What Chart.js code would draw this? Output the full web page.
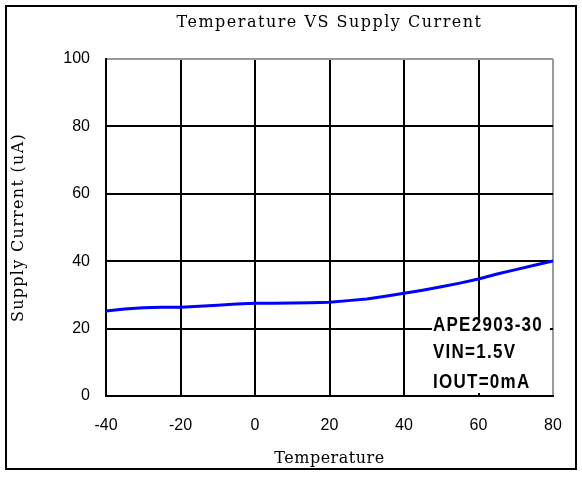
<!DOCTYPE html>
<html lang="en">
  <head>
    <meta charset="UTF-8" />
    <title>Temperature VS Supply Current</title>
    <script src="https://cdn.jsdelivr.net/npm/chart.js"></script>
    <style>
      html, body { margin: 0; padding: 0; background: #fff; }
      #box {
        position: absolute; left: 5px; top: 5px;
        width: 572px; height: 465px;
        border: 2px solid #000; box-sizing: border-box;
      }
      #chart { display: block; }
    </style>
  </head>
  <body>
    <div id="box"><canvas id="chart" width="568" height="461"></canvas></div>
    <script>
      // Temperature (C) and supply current (uA)
      const temperature = [-40, -35, -30, -25, -20, -15, -10, -5, 0, 5, 10, 15, 20, 25, 30, 35, 40, 45, 50, 55, 60, 65, 70, 75, 80];
      const supplyCurrent = [25.2, 25.8, 26.2, 26.3, 26.3, 26.6, 26.9, 27.3, 27.5, 27.5, 27.6, 27.7, 27.8, 28.3, 28.8, 29.6, 30.5, 31.4, 32.4, 33.5, 34.7, 36.2, 37.5, 38.8, 40.1];
      const chartTitle = "Temperature VS Supply Current";
      const xTitle = "Temperature";
      const yTitle = "Supply Current (uA)";
      const noteLines = ["APE2903-30", "VIN=1.5V", "IOUT=0mA"];

      const tickFont = { family: "'Liberation Sans', Arial, sans-serif", size: 16 };
      const serif = "16px 'DejaVu Serif', serif";

      // titles are drawn by hand so they centre on the plot and get the wide spacing
      const textPlugin = {
        id: "texts",
        afterDraw(chart) {
          const { ctx, chartArea } = chart;
          const midX = (chartArea.left + chartArea.right) / 2;
          const midY = (chartArea.top + chartArea.bottom) / 2;
          ctx.save();
          ctx.fillStyle = "#000";
          ctx.font = serif;
          ctx.textAlign = "center";
          ctx.textBaseline = "middle";
          ctx.letterSpacing = "1.5px";
          ctx.fillText(chartTitle, midX, 16);
          ctx.letterSpacing = "0.5px";
          ctx.fillText(xTitle, midX, chart.height - 9);
          ctx.letterSpacing = "1.3px";
          ctx.translate(12, midY);
          ctx.rotate(-Math.PI / 2);
          ctx.fillText(yTitle, 0, 0);
          ctx.restore();
        },
        // white note box in the lower right corner of the plot
        afterDatasetsDraw(chart) {
          const { ctx, chartArea, scales } = chart;
          const left = scales.x.getPixelForValue(47.5);
          const top = scales.y.getPixelForValue(23);
          ctx.save();
          ctx.fillStyle = "#fff";
          ctx.fillRect(left, top, chartArea.right - 3 - left, chartArea.bottom - 3 - top);
          ctx.fillStyle = "#000";
          ctx.font = "bold 20px 'Liberation Sans', Arial, sans-serif";
          ctx.textBaseline = "middle";
          const rows = [21, 13, 3.9];
          noteLines.forEach((t, i) => {
            ctx.save();
            ctx.translate(left + 1, scales.y.getPixelForValue(rows[i]));
            ctx.scale(0.85, 1);
            ctx.letterSpacing = "1.5px";
            ctx.fillText(t, 0, 0);
            ctx.restore();
          });
          ctx.restore();
        },
      };

      new Chart(document.getElementById("chart"), {
        type: "line",
        data: {
          datasets: [
            {
              data: temperature.map((t, i) => ({ x: t, y: supplyCurrent[i] })),
              borderColor: "#0000ff",
              borderWidth: 3,
              pointRadius: 0,
              tension: 0,
            },
          ],
        },
        options: {
          responsive: false,
          animation: false,
          layout: { padding: { left: 0, right: 22, top: 52, bottom: 0 } },
          plugins: {
            legend: { display: false },
            tooltip: { enabled: false },
            title: { display: false },
          },
          scales: {
            x: {
              type: "linear",
              min: -40,
              max: 80,
              ticks: { stepSize: 20, color: "#000", font: tickFont, padding: 20, maxRotation: 0 },
              grid: {
                color: (c) => (c.tick && c.tick.value === 80 ? "#999" : "#000"),
                lineWidth: 2,
                drawTicks: false,
              },
              border: { color: "#000", width: 2 },
              afterFit(axis) {
                axis.height = 72;
                axis.paddingLeft = 0;
                axis.paddingRight = 0;
              },
            },
            y: {
              min: 0,
              max: 100,
              ticks: { stepSize: 20, color: "#000", font: tickFont, padding: 16 },
              grid: {
                color: (c) => (c.tick && c.tick.value === 100 ? "#999" : "#000"),
                lineWidth: 2,
                drawTicks: false,
              },
              border: { color: "#000", width: 2 },
              afterFit(axis) {
                axis.width = 99;
                axis.paddingTop = 0;
                axis.paddingBottom = 0;
              },
            },
          },
        },
        plugins: [textPlugin],
      });
    </script>
  </body>
</html>
